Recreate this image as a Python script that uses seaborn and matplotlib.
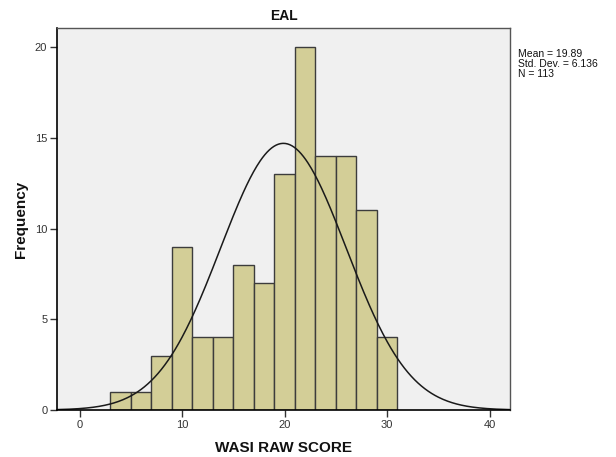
import numpy as np
import pandas as pd
import matplotlib
matplotlib.use("Agg")
import matplotlib.pyplot as plt
import seaborn as sns

# Histogram bins (WASI raw score, width 2) and their frequencies
bin_edges = [3, 5, 7, 9, 11, 13, 15, 17, 19, 21, 23, 25, 27, 29, 31]
counts = [1, 1, 3, 9, 4, 4, 8, 7, 13, 20, 14, 14, 11, 4]

# Summary statistics shown beside the plot
mean_score = 19.89
sd_score = 6.136
n_cases = 113

x_ticks = [0, 10, 20, 30, 40]
y_ticks = [0, 5, 10, 15, 20]

sns.set_theme(style="white")
plt.rcParams["font.family"] = ["Liberation Sans", "DejaVu Sans"]

fig = plt.figure(figsize=(6.16, 4.57), dpi=100)
ax = fig.add_axes([57 / 616, 47 / 457, 453 / 616, 382 / 457])
ax.set_facecolor("#F0F0F0")

centers = [(a + b) / 2 for a, b in zip(bin_edges[:-1], bin_edges[1:])]
df = pd.DataFrame({"score": centers, "freq": counts})
sns.histplot(data=df, x="score", weights="freq", bins=bin_edges, ax=ax,
             color="#D3CE97", edgecolor="#3C3C3C", linewidth=1.0, alpha=1.0)

# Normal curve scaled to the histogram (N * bin width * pdf)
bw = bin_edges[1] - bin_edges[0]
xs = np.linspace(-2.2, 42.0, 400)
ys = n_cases * bw * np.exp(-0.5 * ((xs - mean_score) / sd_score) ** 2) / (sd_score * np.sqrt(2 * np.pi))
sns.lineplot(x=xs, y=ys, ax=ax, color="#1A1A1A", linewidth=1.1)

ax.set_xlim(-2.2, 42.0)
ax.set_ylim(0, 21.05)
ax.set_xticks(x_ticks)
ax.set_yticks(y_ticks)
ax.tick_params(axis="both", direction="out", length=5, width=1, color="#333333",
               labelsize=8, labelcolor="#333333", pad=2,
               bottom=True, left=True)

for side in ("left", "bottom"):
    ax.spines[side].set_color("#000000")
    ax.spines[side].set_linewidth(1.2)
for side in ("top", "right"):
    ax.spines[side].set_color("#555555")
    ax.spines[side].set_linewidth(1.0)

ax.set_xlabel("WASI RAW SCORE", fontsize=11, fontweight="bold", labelpad=8, color="#111111")
ax.set_ylabel("Frequency", fontsize=11, fontweight="bold", labelpad=5, color="#111111")
ax.set_title("EAL", fontsize=10, fontweight="bold", pad=6, color="#111111")

fig.text(518 / 616, 1 - 64 / 457,
         f"Mean = {mean_score:.2f}\nStd. Dev. = {sd_score:.3f}\nN = {n_cases}",
         fontsize=7.5, va="center", ha="left", color="#111111", linespacing=1.05)

fig.savefig("out.png", dpi=100, facecolor="white")
